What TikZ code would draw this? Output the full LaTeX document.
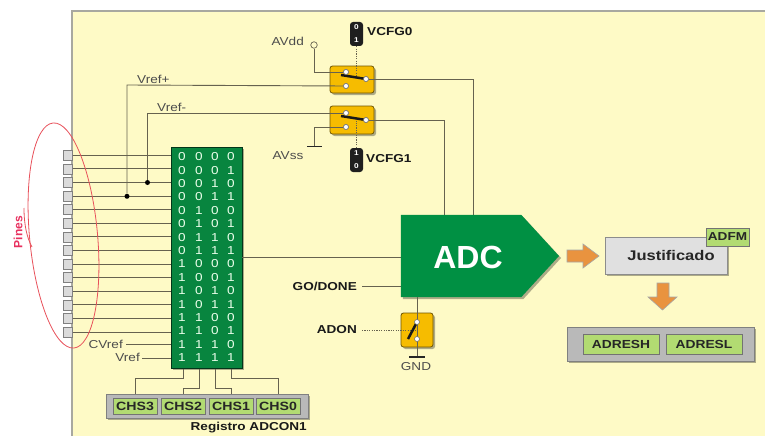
\documentclass[tikz,border=0pt]{standalone}
\usepackage{fontspec}
\setmainfont[FakeStretch=1.18]{Liberation Sans}
\newfontfamily\plainfam{Liberation Sans}
\usetikzlibrary{shadows,calc}
\definecolor{paper}{HTML}{FEFAC6}
\definecolor{edge}{HTML}{A8A8A0}
\definecolor{wire}{HTML}{66624F}
\definecolor{mux}{HTML}{08853F}
\definecolor{adcg}{HTML}{009043}
\definecolor{amber}{HTML}{F6BC00}
\definecolor{regg}{HTML}{B2DB72}
\definecolor{regb}{HTML}{B9B9B9}
\definecolor{lightb}{HTML}{E0E0E0}
\definecolor{orangeb}{HTML}{E9933F}
\definecolor{redl}{HTML}{E8505A}
\definecolor{pinkt}{HTML}{E8305F}
\tikzset{
  x=1pt,y=-1pt,
  softshadow/.style={drop shadow={shadow xshift=2pt,shadow yshift=-2pt,opacity=.45,fill=black!70!paper}},
  wirel/.style={draw=wire,line width=.9pt},
  dotl/.style={draw=wire,line width=.8pt,dash pattern=on 1.2pt off 1.2pt},
  plab/.style={inner sep=0pt,text=black!70,font=\fontsize{11.5}{12}\selectfont},
  blab/.style={inner sep=0pt,text=black!90,font=\fontsize{11.5}{12}\selectfont\bfseries},
  pinbox/.style={draw=black!50,fill=black!14,line width=.7pt,minimum width=8.5pt,minimum height=10pt,inner sep=0pt},
  bit/.style={inner sep=0pt,text=green!8!white,font=\fontsize{11.5}{12}\selectfont},
  swbox/.style={draw=black!55!amber,fill=amber,line width=.8pt,rounded corners=2.5pt,inner sep=0pt,softshadow},
  contact/.style={circle,draw=black!55,fill=white,line width=.6pt,minimum size=5pt,inner sep=0pt},
  tagbox/.style={fill=black!88,rounded corners=3pt,minimum width=13pt,minimum height=24pt,inner sep=0pt},
  tagbit/.style={inner sep=0pt,text=white,font=\fontsize{7}{8}\selectfont\bfseries},
  regbox/.style={draw=black!50,fill=regb,line width=.9pt,inner sep=0pt,softshadow},
  regcell/.style={draw=black!55,fill=regg,line width=.8pt,inner sep=0pt,text=black!85,font=\fontsize{12}{13}\selectfont\bfseries},
  lever/.style={line width=2.5pt,black!90},
  blockarrow/.style={fill=orangeb,draw=black!35,line width=.6pt},
  gndbar/.style={line width=1.4pt,black!85},
  dot/.style={circle,fill=black,minimum size=5pt,inner sep=0pt}
}
\begin{document}
\begin{tikzpicture}
\useasboundingbox (0,0) rectangle (765,436);
\fill[white] (0,0) rectangle (765,436);
\fill[paper] (72,11) rectangle (765,436);
\draw[edge,line width=1.5pt] (72,436) -- (72,11) -- (765,11);

% pins
\foreach \i in {1,...,14}{
  \node[pinbox] (pin\i) at ({68},{155.3+13.6*(\i-1)}) {};
}
% multiplexer block
\node[fill=mux,draw=black!60!mux,line width=.8pt,minimum width=71pt,minimum height=221pt,inner sep=0pt,softshadow] (mux) at (206.5,257.5) {};
\foreach \i in {1,...,14}{
  \draw[wirel] (pin\i.east) -- (pin\i.east -| mux.west);
}
\foreach \r/\a/\b/\c/\d [count=\n from 0] in {0/0/0/0/0,1/0/0/0/1,2/0/0/1/0,3/0/0/1/1,4/0/1/0/0,5/0/1/0/1,6/0/1/1/0,7/0/1/1/1,8/1/0/0/0,9/1/0/0/1,10/1/0/1/0,11/1/0/1/1,12/1/1/0/0,13/1/1/0/1,14/1/1/1/0,15/1/1/1/1}{
  \node[bit] (ba\n) at (182,{156.7+13.4*\n}) {\a};
  \node[bit] (bb\n) at (199,{156.7+13.4*\n}) {\b};
  \node[bit] (bc\n) at (215,{156.7+13.4*\n}) {\c};
  \node[bit] (bd\n) at (231,{156.7+13.4*\n}) {\d};
}
\node[plab,anchor=east] (cvref) at (123,344) {CVref};
\node[plab,anchor=east] (vrefl) at (140,357) {Vref};
\draw[wirel] (cvref.east)++(3,0) coordinate (cv0) -- (cv0 -| mux.west);
\draw[wirel] (vrefl.east)++(2,1) coordinate (vr0) -- (vr0 -| mux.west);

% pines ellipse
\draw[redl,line width=.8pt,rotate around={5.3:(63.5,235.5)}] (63.5,235.5) ellipse [x radius=34,y radius=113];
\draw[redl,line width=.8pt] (24,208) .. controls (24,225) and (27,238) .. (32,247);
\node[inner sep=0pt,rotate=90,text=pinkt,font=\plainfam\fontsize{12}{13}\selectfont\bfseries] (pines) at (18,232) {Pines};

% top switches
\node[swbox,minimum width=44pt,minimum height=27pt] (sw1) at (352,79.5) {};
\node[swbox,minimum width=44pt,minimum height=28pt] (sw2) at (352,120) {};
\node[tagbox] (tag0) at (356.5,34) {};
\node[tagbox] (tag1) at (356.5,160) {};
\node[tagbit] (t0a) at (356.5,27.5) {0};
\node[tagbit] (t0b) at (356.5,40) {1};
\node[tagbit] (t1a) at (356.5,153.5) {1};
\node[tagbit] (t1b) at (356.5,166) {0};
\node[blab,anchor=west] (vcfg0) at (367,32) {VCFG0};
\node[blab,anchor=west] (vcfg1) at (366,159) {VCFG1};
\node[plab,anchor=east] (avddl) at (304,41) {AVdd};
\node[circle,draw=wire,fill=paper,line width=.7pt,minimum size=6.5pt,inner sep=0pt] (avdd) at (314,45) {};
\node[plab] (avssl) at (288,156) {AVss};
\coordinate (avssg) at (314.5,146.5);
\node[contact] (s1a) at (346,72) {};
\node[contact] (s1b) at (346,86) {};
\node[contact] (s1c) at (366,79) {};
\node[contact] (s2a) at (346,113) {};
\node[contact] (s2b) at (346,127) {};
\node[contact] (s2c) at (366,120) {};
\coordinate (jp0) at (127,85);
\coordinate (jm0) at (147.5,113);

% ADC
\node[minimum width=120pt,minimum height=82pt,inner sep=0pt] (adcbody) at (461,256) {};
\coordinate (adctip) at (559,256);
\draw[wirel] (mux.east) -- (mux.east -| adcbody.west);
\node[blab,anchor=east] (godone) at (357,286) {GO/DONE};
\draw[wirel] (362,286) coordinate (gd0) -- (gd0 -| adcbody.west);
\draw[wirel] (s1c) -- (s1c -| 473,0) -- (473,215) coordinate (adcin1);
\draw[wirel] (s2c) -- (s2c -| 444,0) -- (444,215) coordinate (adcin2);
\fill[adcg,softshadow] (adcbody.north west) -- (adcbody.north east) -- (adctip) -- (adcbody.south east) -- (adcbody.south west) -- cycle;
\node[inner sep=0pt,text=white,font=\plainfam\fontsize{32}{34}\selectfont\bfseries] (adclabel) at (468,257) {ADC};

% ADON switch
\node[swbox,minimum width=32pt,minimum height=34pt] (sw3) at (417,330) {};
\coordinate (gndc) at (417,357);
\draw[wirel] (417,297) coordinate (adcout) -- (gndc);
\draw[gndbar] (409,357) -- (425,357);
\node[plab] (gndl) at (416,367) {GND};
\node[blab,anchor=east] (adon) at (357,330) {ADON};
\draw[dotl] (362,330) coordinate (ad0) -- (ad0 -| sw3.center);
\draw[lever] (408,339) -- (416.5,323);
\node[contact] (s3a) at (417,322) {};
\node[contact] (s3b) at (417,339) {};

% switch wiring
\draw[wirel] (avdd) |- (s1a);
\node[dot] (jplus) at (127,196.3) {};
\node[dot] (jminus) at (147.5,182.5) {};
\draw[wirel] (jplus) -- (jp0) -- (s1b);
\draw[wirel] (jminus) -- (jm0) -- (s2a);
\draw[wirel] (s2b) -| (avssg);
\draw[gndbar] (307,146.5) -- (322,146.5);
\node[plab,anchor=south west] (vplus) at (137,84) {Vref+};
\node[plab,anchor=south west] (vminus) at (157,112) {Vref-};
\draw[dotl] (tag0.south) -- (356.5,76);
\draw[dotl] (tag1.north) -- (356.5,121);
\draw[lever] (341,75) -- (366,79);
\draw[lever] (341,116) -- (366,120);
\node[contact] at (s1a) {};
\node[contact] at (s1b) {};
\node[contact] at (s1c) {};
\node[contact] at (s2a) {};
\node[contact] at (s2b) {};
\node[contact] at (s2c) {};

% result path
\draw[blockarrow] (567,250) -- (583,250) -- (583,244) -- (599,256) -- (583,268) -- (583,262) -- (567,262) -- cycle;
\node[draw=black!45,fill=lightb,line width=.8pt,minimum width=122pt,minimum height=37pt,inner sep=0pt,softshadow] (just) at (666,255.5) {};
\node[inner sep=0pt,text=black!85,font=\fontsize{14}{15}\selectfont\bfseries] (justl) at (671,255) {Justificado};
\node[regcell,minimum width=43pt,minimum height=18pt,font=\fontsize{11.5}{12}\selectfont\bfseries] (adfm) at (727.5,237) {ADFM};
\draw[blockarrow] (657,283) -- (669,283) -- (669,297) -- (677,297) -- (662.5,310) -- (648,297) -- (657,297) -- cycle;
\node[regbox,minimum width=187pt,minimum height=34pt] (adres) at (660.5,344) {};
\node[regcell,minimum width=76pt,minimum height=20pt,font=\fontsize{11.7}{12}\selectfont\bfseries] (adresh) at (621,344) {ADRESH};
\node[regcell,minimum width=76pt,minimum height=20pt,font=\fontsize{11.7}{12}\selectfont\bfseries] (adresl) at (704,344) {ADRESL};

% channel register
\node[regbox,minimum width=202pt,minimum height=24pt] (chsreg) at (207,406) {};
\node[regcell,minimum width=44pt,minimum height=16pt] (chs3) at (135,406) {CHS3};
\node[regcell,minimum width=44pt,minimum height=16pt] (chs2) at (183,406) {CHS2};
\node[regcell,minimum width=44pt,minimum height=16pt] (chs1) at (231,406) {CHS1};
\node[regcell,minimum width=44pt,minimum height=16pt] (chs0) at (278,406) {CHS0};
\node[blab,anchor=east] (regname) at (307,428) {Registro ADCON1};
\draw[wirel] (183,368.5) coordinate (m1) -- (183,378) -- (135,378) -- (135,394) coordinate (c3t);
\draw[wirel] (199,368.5) coordinate (m2) -- (199,388) -- (183,388) -- (183,394) coordinate (c2t);
\draw[wirel] (215,368.5) coordinate (m3) -- (215,388) -- (231,388) -- (231,394) coordinate (c1t);
\draw[wirel] (231,368.5) coordinate (m4) -- (231,378) -- (278,378) -- (278,394) coordinate (c0t);
\end{tikzpicture}
\end{document}
